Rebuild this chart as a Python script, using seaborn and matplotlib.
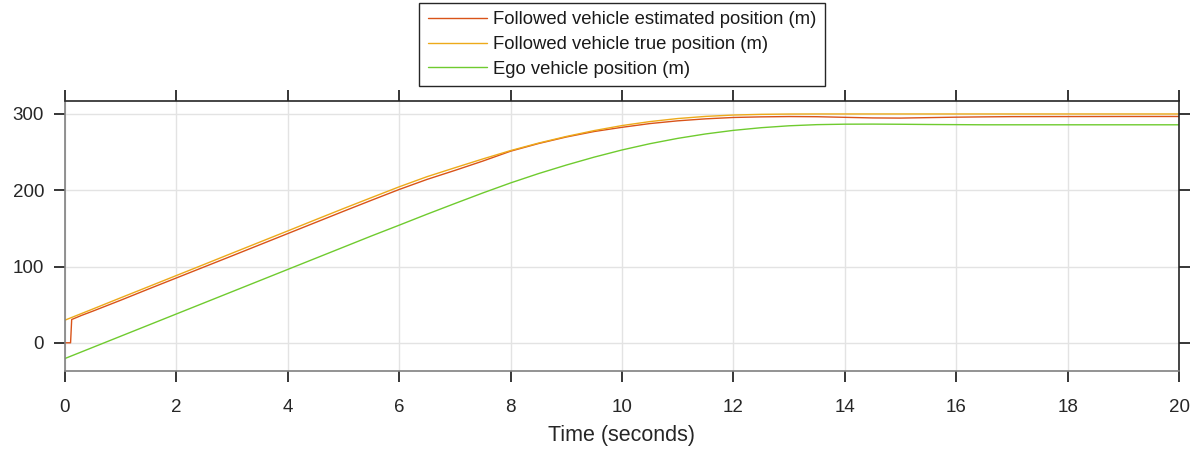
import numpy as np
import pandas as pd
import matplotlib
matplotlib.use("Agg")
import matplotlib.pyplot as plt
import seaborn as sns

# Simulation output sampled every 0.5 s
time_s = [0.0, 0.5, 1.0, 1.5, 2.0, 2.5, 3.0, 3.5, 4.0, 4.5,
          5.0, 5.5, 6.0, 6.5, 7.0, 7.5, 8.0, 8.5, 9.0, 9.5,
          10.0, 10.5, 11.0, 11.5, 12.0, 12.5, 13.0, 13.5, 14.0, 14.5,
          15.0, 15.5, 16.0, 16.5, 17.0, 17.5, 18.0, 18.5, 19.0, 19.5, 20.0]

true_pos = [29.7, 44.3, 59.0, 73.6, 88.2, 102.8, 117.5, 132.1, 146.7, 161.4,
            176.0, 190.3, 204.5, 217.8, 229.5, 241.0, 252.0, 261.8, 270.5, 278.2,
            284.8, 290.0, 294.0, 296.8, 298.6, 299.5, 299.9, 300.0, 300.0, 300.0,
            300.0, 300.0, 300.0, 300.0, 300.0, 300.0, 300.0, 300.0, 300.0, 300.0, 300.0]

ego_pos = [-20.6, -6.0, 8.6, 23.2, 37.8, 52.4, 67.0, 81.6, 96.2, 110.8,
           125.4, 140.0, 154.2, 168.6, 182.6, 196.4, 209.6, 221.8, 233.0, 243.4,
           252.8, 261.0, 268.0, 273.8, 278.5, 282.0, 284.5, 286.0, 286.6, 286.7,
           286.5, 286.2, 286.0, 285.8, 285.8, 285.8, 285.8, 285.8, 285.8, 285.8, 285.8]

# Estimator output: holds zero until the first detection, then tracks the target
est_time_s = [0.0, 0.1, 0.12, 0.3, 0.5, 1.0, 1.5, 2.0, 2.5, 3.0,
              3.5, 4.0, 4.5, 5.0, 5.5, 6.0, 6.5, 7.0, 7.5, 8.0,
              8.5, 9.0, 9.5, 10.0, 10.5, 11.0, 11.5, 12.0, 12.5, 13.0,
              13.5, 14.0, 14.5, 15.0, 15.5, 16.0, 16.5, 17.0, 18.0, 19.0, 20.0]

est_pos = [0.0, 0.0, 30.5, 36.0, 41.5, 55.8, 70.5, 85.0, 99.5, 114.0,
           128.6, 143.2, 157.8, 172.4, 186.8, 201.0, 214.2, 226.0, 238.2, 251.2,
           261.2, 269.8, 277.0, 282.5, 287.4, 291.0, 293.6, 295.4, 296.2, 296.6,
           296.4, 295.6, 294.8, 294.6, 295.2, 295.8, 296.2, 296.5, 296.6, 296.7, 296.7]

series_names = ["Followed vehicle estimated position (m)",
                "Followed vehicle true position (m)",
                "Ego vehicle position (m)"]
series_colors = ["#D95319", "#EDAA1A", "#6FCB2F"]

df = pd.concat([
    pd.DataFrame({"time": est_time_s, "position": est_pos, "series": series_names[0]}),
    pd.DataFrame({"time": time_s, "position": true_pos, "series": series_names[1]}),
    pd.DataFrame({"time": time_s, "position": ego_pos, "series": series_names[2]}),
], ignore_index=True)

sns.set_theme(style="white")
plt.rcParams["font.family"] = ["Liberation Sans", "DejaVu Sans"]

fig = plt.figure(figsize=(11.98, 4.51), dpi=100)
ax = fig.add_axes([65 / 1198, 1 - 371 / 451, (1179 - 65) / 1198, (371 - 101) / 451])

sns.lineplot(data=df, x="time", y="position", hue="series",
             hue_order=series_names, palette=series_colors,
             estimator=None, linewidth=1.0, ax=ax)

ax.set_xlim(0, 20)
ax.set_ylim(-37, 317)
ax.set_xticks(np.arange(0, 21, 2))
ax.set_yticks([0, 100, 200, 300])
ax.set_xlabel("Time (seconds)", fontsize=15.5, color="#262626", labelpad=7)
ax.set_ylabel("")

ax.grid(True, color="#e3e3e3", linewidth=1.0)
ax.set_axisbelow(True)

ax.tick_params(axis="both", which="both", direction="out",
               bottom=True, left=True, top=True, right=True,
               labelbottom=True, labelleft=True, labeltop=False, labelright=False,
               length=8, width=1.3, color="#262626", labelcolor="#262626",
               labelsize=13.5)
ax.tick_params(axis="x", pad=12)
ax.tick_params(axis="y", pad=7)

for side in ["top", "right"]:
    ax.spines[side].set_color("#262626")
    ax.spines[side].set_linewidth(1.2)
for side in ["left", "bottom"]:
    ax.spines[side].set_color("#808080")
    ax.spines[side].set_linewidth(1.2)

handles, labels = ax.get_legend_handles_labels()
ax.get_legend().remove()
leg = fig.legend(handles, labels, loc="upper center",
                 bbox_to_anchor=(622 / 1198, 1 - 3 / 451),
                 fontsize=13.3, frameon=True, fancybox=False,
                 edgecolor="#262626", framealpha=1.0,
                 handlelength=3.2, handletextpad=0.35, labelspacing=0.42,
                 borderpad=0.45, borderaxespad=0)
leg.get_frame().set_linewidth(1.0)
for line in leg.get_lines():
    line.set_linewidth(1.0)
for txt in leg.get_texts():
    txt.set_color("#1a1a1a")

fig.savefig("out.png", dpi=100)
